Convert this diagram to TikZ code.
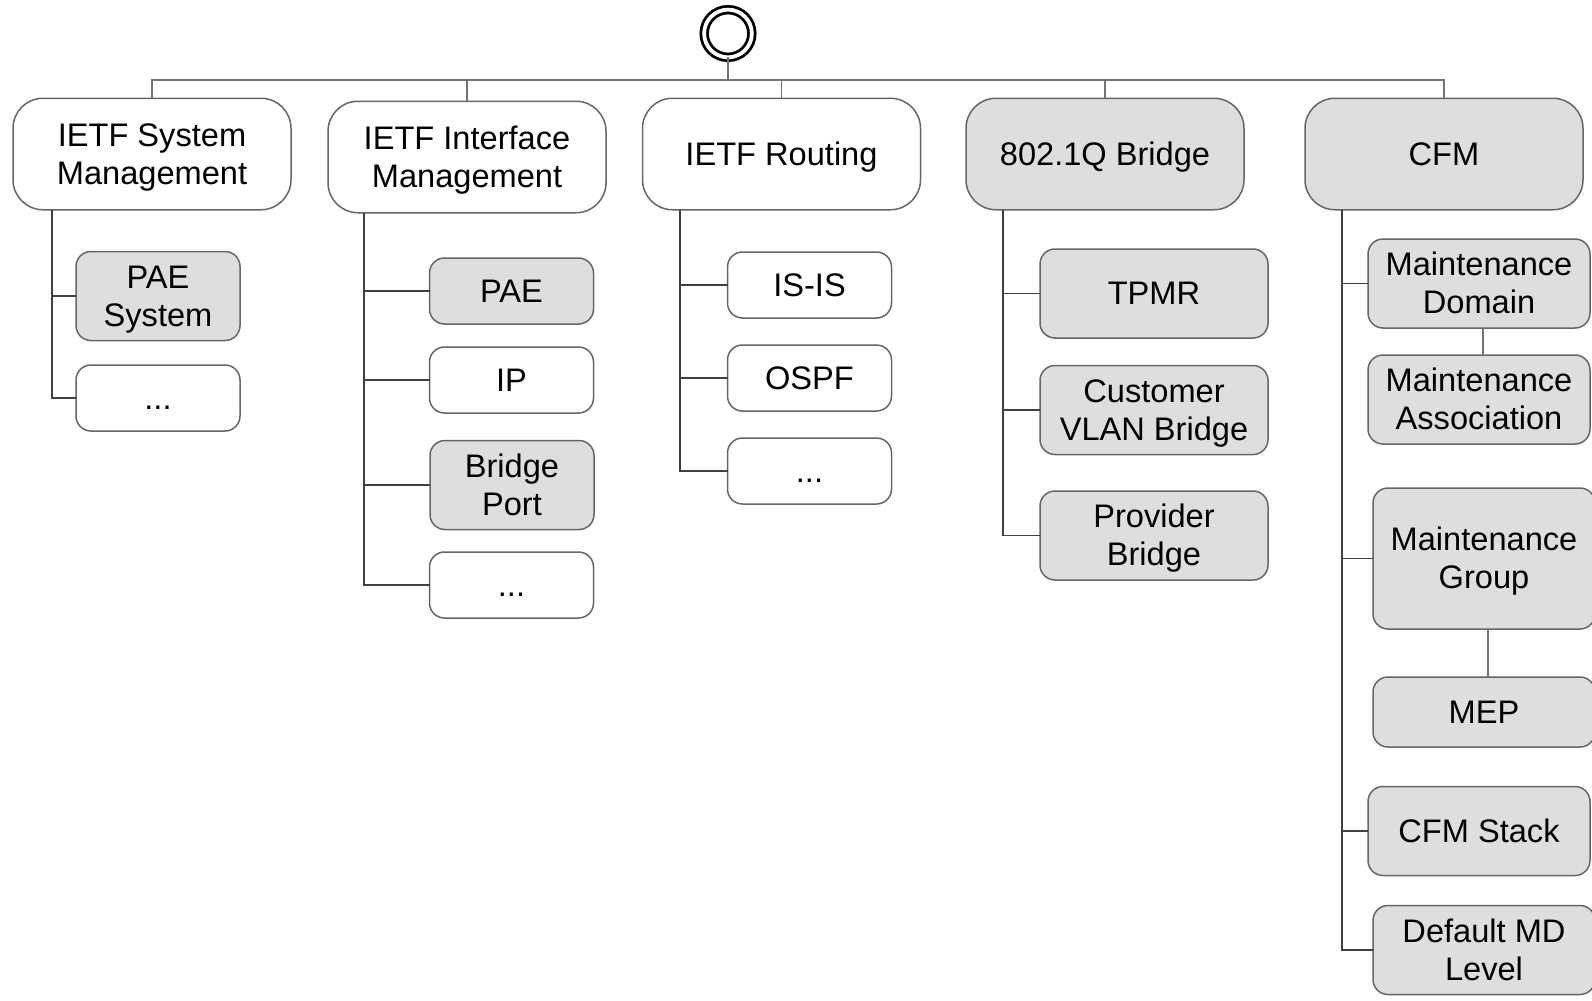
\documentclass[tikz,border=0pt]{standalone}
\usepackage{fontspec}
\setmainfont{Liberation Sans}
\usetikzlibrary{calc}
\tikzset{
every picture/.style={x=0.5pt, y=-0.5pt, line width=0.8pt},
%%%%%%%%%%  Node styles
root/.style={circle, draw=black, line width=1.4pt, double=white,
             double distance=1.9pt, minimum size=23.85pt, inner sep=0pt,
             outer sep=0pt},
topbox/.style={draw=black!60, line width=0.75pt, rounded corners=15pt,
               minimum width=139pt, minimum height=55.75pt, align=center,
               inner sep=2pt, outer sep=0pt, oneline,
               font=\fontsize{16.3}{19.2}\selectfont},
module/.style={topbox, rounded corners=7.5pt, minimum width=82pt,
               minimum height=33pt},
tall/.style={minimum height=44.5pt},
wide/.style={minimum width=114pt},
cfmbox/.style={minimum width=111pt},
%%%% text boxes
oneline/.style={text height=14.75pt, text depth=3.46pt},
twoline/.style={text height=33.95pt, text depth=3.46pt},
dots/.style={text height=11pt, text depth=0pt},
%%%% different line styles:
bus/.style={draw=black!55, line width=0.8pt},
branch/.style={draw=black!75, line width=0.8pt},
%%%%%%% Fill styles %%%%%%%%%%%%%%%
cell/.style={fill=black!13},
plain/.style={fill=white}
}
\begin{document}
\begin{tikzpicture}
\useasboundingbox (0,0) rectangle (1592,1001);
\coordinate (bus) at (728,80);
\node[root] (root) at (728,33.5) {};
\node[topbox,plain,twoline] (sys) at (152,154) {IETF System\\Management};
\node[topbox,plain,twoline] (ifm) at (467,157) {IETF Interface\\Management};
\node[topbox,plain] (rtg) at (781.5,154) {IETF Routing};
\node[topbox,cell] (brg) at (1105,154) {802.1Q Bridge};
\node[topbox,cell] (cfm) at (1444,154) {CFM};
%%%%%%% IETF System Management
\node[module,tall,cell,twoline] (paesys) at (158,296) {PAE\\System};
\node[module,plain,dots] (sysmore) at (158,398) {...};
%%%%%%% IETF Interface Management
\node[module,cell] (pae) at (511.5,291) {PAE};
\node[module,plain] (ip) at (511.5,380) {IP};
\node[module,tall,cell,twoline] (bport) at (512,485) {Bridge\\Port};
\node[module,plain,dots] (ifmore) at (511.5,585) {...};
%%%%%%% IETF Routing
\node[module,plain] (isis) at (809.5,285) {IS-IS};
\node[module,plain] (ospf) at (809.5,378) {OSPF};
\node[module,plain,dots] (rtmore) at (809.5,471) {...};
%%%%%%% 802.1Q Bridge
\node[module,tall,wide,cell] (tpmr) at (1154,293.5) {TPMR};
\node[module,tall,wide,cell,twoline] (cvb) at (1154,410) {Customer\\VLAN Bridge};
\node[module,tall,wide,cell,twoline] (pb) at (1154,535.5) {Provider\\Bridge};
%%%%%%% CFM
\node[module,tall,cfmbox,cell,twoline] (md) at (1479,283.5) {Maintenance\\Domain};
\node[module,tall,cfmbox,cell,twoline] (ma) at (1479,399.5) {Maintenance\\Association};
\node[module,cfmbox,cell,twoline,minimum height=70.5pt] (mg) at (1484,558.5)
      {Maintenance\\Group};
\node[module,cfmbox,cell,minimum height=35pt] (mep) at (1484,712) {MEP};
\node[module,tall,cfmbox,cell] (stack) at (1479,831) {CFM Stack};
\node[module,tall,cfmbox,cell,twoline] (mdl) at (1484,950) {Default MD\\Level};
%%%%%%% top level bus
\draw[bus] (root) -- (bus);
\draw[bus] (bus) -| (sys.north);
\draw[bus] (bus) -| (ifm.north);
\draw[bus] (bus) -| (rtg.north);
\draw[bus] (bus) -| (brg.north);
\draw[bus] (bus) -| (cfm.north);
%%%%%%% branches
\draw[branch] ([xshift=19.5pt]sys.south west) |- (paesys.west);
\draw[branch] ([xshift=19.5pt]sys.south west) |- (sysmore.west);
\draw[branch] ([xshift=18pt]ifm.south west) |- (pae.west);
\draw[branch] ([xshift=18pt]ifm.south west) |- (ip.west);
\draw[branch] ([xshift=18pt]ifm.south west) |- (bport.west);
\draw[branch] ([xshift=18pt]ifm.south west) |- (ifmore.west);
\draw[branch] ([xshift=18.7pt]rtg.south west) |- (isis.west);
\draw[branch] ([xshift=18.7pt]rtg.south west) |- (ospf.west);
\draw[branch] ([xshift=18.7pt]rtg.south west) |- (rtmore.west);
\draw[branch] ([xshift=18.5pt]brg.south west) |- (tpmr.west);
\draw[branch] ([xshift=18.5pt]brg.south west) |- (cvb.west);
\draw[branch] ([xshift=18.5pt]brg.south west) |- (pb.west);
\draw[branch] ([xshift=18.5pt]cfm.south west) |- (md.west);
\draw[branch] ([xshift=18.5pt]cfm.south west) |- (mg.west);
\draw[branch] ([xshift=18.5pt]cfm.south west) |- (stack.west);
\draw[branch] ([xshift=18.5pt]cfm.south west) |- (mdl.west);
\draw[bus] ([xshift=2pt]md.south) -- ([xshift=2pt]md.south |- ma.north);
\draw[bus] ([xshift=2pt]mg.south) -- ([xshift=2pt]mg.south |- mep.north);
\end{tikzpicture}
\end{document}
